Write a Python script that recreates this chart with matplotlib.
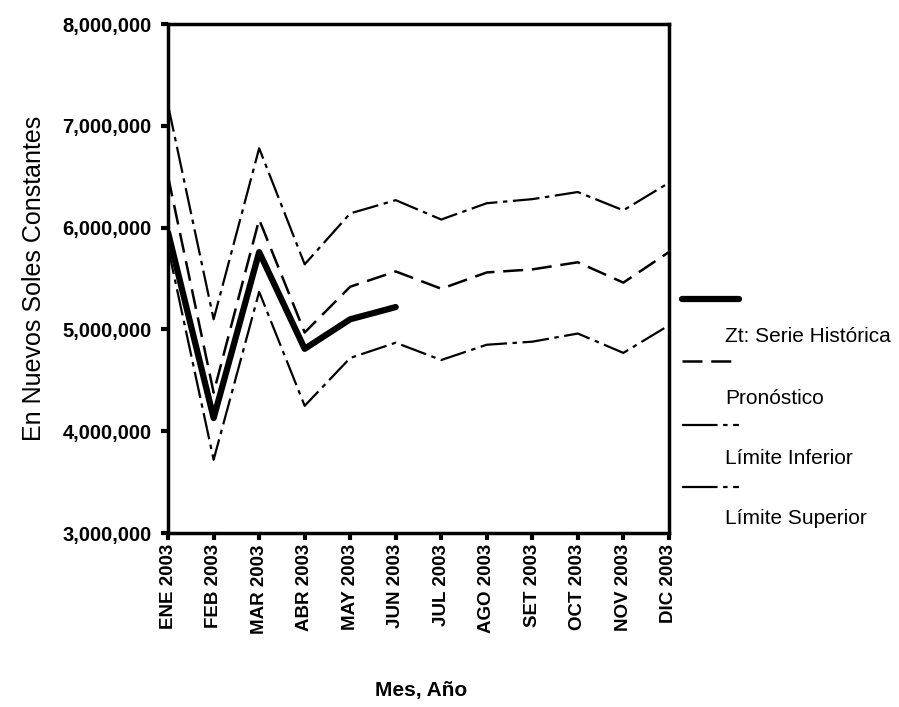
import numpy as np
import matplotlib.pyplot as plt
from matplotlib.lines import Line2D
from matplotlib.ticker import FuncFormatter

plt.rcParams['font.family'] = ['Liberation Sans', 'DejaVu Sans']

# Data (millions)
months = ["ENE 2003", "FEB 2003", "MAR 2003", "ABR 2003", "MAY 2003", "JUN 2003",
          "JUL 2003", "AGO 2003", "SET 2003", "OCT 2003", "NOV 2003", "DIC 2003"]
historic = [5.95, 4.13, 5.76, 4.81, 5.10, 5.22]
forecast = [6.50, 4.38, 6.08, 4.97, 5.42, 5.57, 5.40, 5.56, 5.59, 5.66, 5.46, 5.76]
lower = [5.80, 3.72, 5.37, 4.25, 4.72, 4.87, 4.70, 4.85, 4.88, 4.96, 4.77, 5.04]
upper = [7.20, 5.10, 6.78, 5.64, 6.14, 6.27, 6.08, 6.24, 6.28, 6.35, 6.17, 6.44]

legend_labels = ["Zt: Serie Histórica", "Pronóstico", "Límite Inferior", "Límite Superior"]

fig = plt.figure(figsize=(8.99, 7.07), dpi=100)
ax = fig.add_axes([0.187, 0.246, 0.557, 0.720])

x = np.arange(len(months))
scale = 1e6

ax.plot(x[:len(historic)], np.array(historic) * scale, color="black", lw=4.5,
        solid_joinstyle="round", solid_capstyle="round")
ax.plot(x, np.array(forecast) * scale, color="black", lw=1.8, dashes=(8, 3.5))
ax.plot(x, np.array(lower) * scale, color="black", lw=1.6, dashes=(12, 2.5, 2, 2.5))
ax.plot(x, np.array(upper) * scale, color="black", lw=1.6, dashes=(12, 2.5, 2, 2.5))

ax.set_xlim(0, len(months) - 1)
ax.set_ylim(3e6, 8e6)
ax.set_xticks(x)
ax.set_xticklabels(months, rotation=90, fontsize=13.5, fontweight="bold")
ax.set_yticks(np.arange(3e6, 8.01e6, 1e6))
ax.yaxis.set_major_formatter(FuncFormatter(lambda v, p: f"{int(v):,}"))
for lab in ax.get_yticklabels():
    lab.set_fontsize(14.5)
    lab.set_fontweight("bold")

ax.tick_params(direction="out", length=5, width=3, pad=3)
ax.tick_params(axis="y", pad=7)
for s in ax.spines.values():
    s.set_linewidth(2.5)

ax.set_ylabel("En Nuevos Soles Constantes", fontsize=18, labelpad=12)
fig.text(0.468, 0.024, "Mes, Año", ha="center", va="center", fontsize=15, fontweight="bold")

# Legend drawn in SPSS style: sample line above, label indented below
W, H = 899, 707
samples = [dict(lw=4.5, solid_capstyle="round"),
           dict(lw=1.8, dashes=(8, 3.5)),
           dict(lw=1.6, dashes=(16, 2.5, 2, 2.5)),
           dict(lw=1.6, dashes=(16, 2.5, 2, 2.5))]
line_y = [299, 361, 425, 487]
text_y = [336, 398, 458, 519]
for kw, ly, ty, lab in zip(samples, line_y, text_y, legend_labels):
    fig.add_artist(Line2D([682 / W, 739 / W], [1 - ly / H, 1 - ly / H], color="black", **kw))
    fig.text(725 / W, 1 - ty / H, lab, fontsize=15, va="center", ha="left")

fig.savefig("out.png", dpi=100)
